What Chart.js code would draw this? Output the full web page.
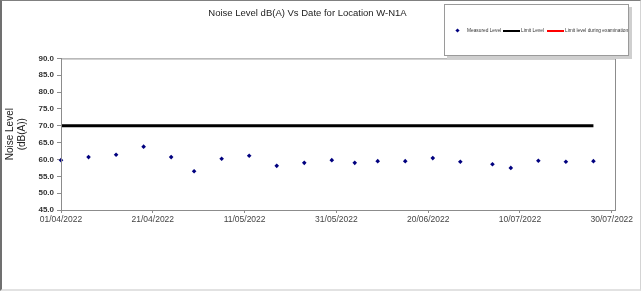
<!DOCTYPE html>
<html>
<head>
<meta charset="utf-8">
<script src="https://cdn.jsdelivr.net/npm/chart.js@4"></script>
<style>
  html, body { margin: 0; padding: 0; background: #fff; }
  #wrap { position: relative; width: 643px; height: 293px; overflow: hidden; }
  #chart { position: absolute; left: 0; top: 0; }
  #frame {
    position: absolute; left: 0; top: 0; width: 638px; height: 288px;
    border-left: 2px solid #707070; border-top: 1px solid #808080;
    border-right: 1px solid #d4d4d4; border-bottom: 2px solid #e2e2e2;
    pointer-events: none;
  }
  #legend {
    position: absolute; left: 444px; top: 4px; width: 183px; height: 50px;
    border: 1px solid #9a9a9a; background: #fff;
    box-shadow: 3px 3px 0 #cfcfcf;
    font-family: Arial, "Liberation Sans", sans-serif; font-size: 4.8px; color: #333;
  }
  .item { position: absolute; top: 23px; display: flex; align-items: center; white-space: nowrap; }
  .dot { width: 3px; height: 3px; background: #00007f; transform: rotate(45deg); margin-right: 8px; }
  .ln { width: 17px; height: 2px; margin-right: 1px; }
</style>
</head>
<body>
<div id="wrap">
  <canvas id="chart" width="643" height="293"></canvas>
  <div id="legend">
    <div class="item" style="left:11px"><div class="dot"></div>Measured Level</div>
    <div class="item" style="left:58px"><div class="ln" style="background:#000"></div>Limit Level</div>
    <div class="item" style="left:102px"><div class="ln" style="background:#ff0000"></div>Limit level during examination</div>
  </div>
  <div id="frame"></div>
</div>
<script>
const dates = ["01/04/2022", "07/04/2022", "13/04/2022", "19/04/2022", "25/04/2022", "30/04/2022",
  "06/05/2022", "12/05/2022", "18/05/2022", "24/05/2022", "30/05/2022", "04/06/2022",
  "09/06/2022", "15/06/2022", "21/06/2022", "27/06/2022", "04/07/2022", "08/07/2022",
  "14/07/2022", "20/07/2022", "26/07/2022"];
const measured = [59.8, 60.7, 61.4, 63.8, 60.7, 56.5, 60.2, 61.1, 58.1, 59.0, 59.8, 59.0,
  59.5, 59.5, 60.4, 59.3, 58.6, 57.5, 59.6, 59.3, 59.5];
const limitLevel = dates.map(() => 70);
const yTicks = [45, 50, 55, 60, 65, 70, 75, 80, 85, 90];
const xStart = "01/04/2022";
const xEnd = "30/07/2022";

function toDay(s) {
  const p = s.split("/");
  return Date.UTC(+p[2], +p[1] - 1, +p[0]) / 86400000;
}
function fromDay(d) {
  const t = new Date(d * 86400000);
  const pad = n => String(n).padStart(2, "0");
  return pad(t.getUTCDate()) + "/" + pad(t.getUTCMonth() + 1) + "/" + t.getUTCFullYear();
}
const day0 = toDay(xStart);
const xs = dates.map(d => toDay(d) - day0);

const plotBorder = {
  id: "plotBorder",
  afterDatasetsDraw(chart) {
    const a = chart.chartArea, ctx = chart.ctx;
    ctx.save();
    ctx.strokeStyle = "#8c8c8c";
    ctx.lineWidth = 1;
    ctx.strokeRect(a.left + 0.5, a.top + 0.5, a.right - a.left, a.bottom - a.top);
    ctx.restore();
  }
};

new Chart(document.getElementById("chart"), {
  type: "scatter",
  data: {
    datasets: [
      {
        label: "Limit Level",
        data: xs.map((x, i) => ({ x: x, y: limitLevel[i] })),
        showLine: true,
        borderColor: "#000",
        borderWidth: 3,
        pointRadius: 0,
        order: 2
      },
      {
        label: "Measured Level",
        data: xs.map((x, i) => ({ x: x, y: measured[i] })),
        pointStyle: "rectRot",
        pointRadius: 2.3,
        backgroundColor: "#00007f",
        borderColor: "#00007f",
        borderWidth: 0,
        clip: false,
        order: 1
      },
      {
        label: "Limit level during examination",
        data: [],
        borderColor: "#ff0000"
      }
    ]
  },
  options: {
    responsive: false,
    animation: false,
    layout: { padding: { left: 0, right: 28, top: 0, bottom: 0 } },
    plugins: {
      legend: { display: false },
      tooltip: { enabled: false },
      title: {
        display: true,
        text: "Noise Level dB(A) Vs Date for Location W-N1A",
        color: "#222",
        font: { family: "Arial, 'Liberation Sans'", size: 9.5, weight: "normal" },
        padding: { top: 8, bottom: 39 }
      }
    },
    scales: {
      x: {
        type: "linear",
        min: 0,
        max: toDay(xEnd) - day0 + 0.7,
        grid: { display: true, drawOnChartArea: false, tickLength: 3, color: "#8c8c8c" },
        border: { color: "#8c8c8c" },
        ticks: {
          stepSize: 20,
          includeBounds: false,
          maxRotation: 0,
          padding: 2,
          color: "#444",
          font: { family: "'Liberation Sans Narrow', Arial", size: 8.5 },
          callback: v => fromDay(day0 + v)
        },
        afterFit: s => { s.height = 83; }
      },
      y: {
        min: yTicks[0],
        max: yTicks[yTicks.length - 1],
        afterBuildTicks: s => { s.ticks = yTicks.map(v => ({ value: v })); },
        grid: { display: true, drawOnChartArea: false, tickLength: 4, color: "#8c8c8c" },
        border: { color: "#8c8c8c" },
        ticks: {
          padding: 3,
          color: "#333",
          font: { family: "Arial, 'Liberation Sans'", size: 8, weight: "bold" },
          callback: v => Number(v).toFixed(1)
        },
        title: {
          display: true,
          text: ["Noise Level", "(dB(A))"],
          color: "#222",
          font: { family: "Arial, 'Liberation Sans'", size: 10 },
          padding: { top: 4, bottom: 0 }
        },
        afterFit: s => { s.width = 61; }
      }
    }
  },
  plugins: [plotBorder]
});
</script>
</body>
</html>
